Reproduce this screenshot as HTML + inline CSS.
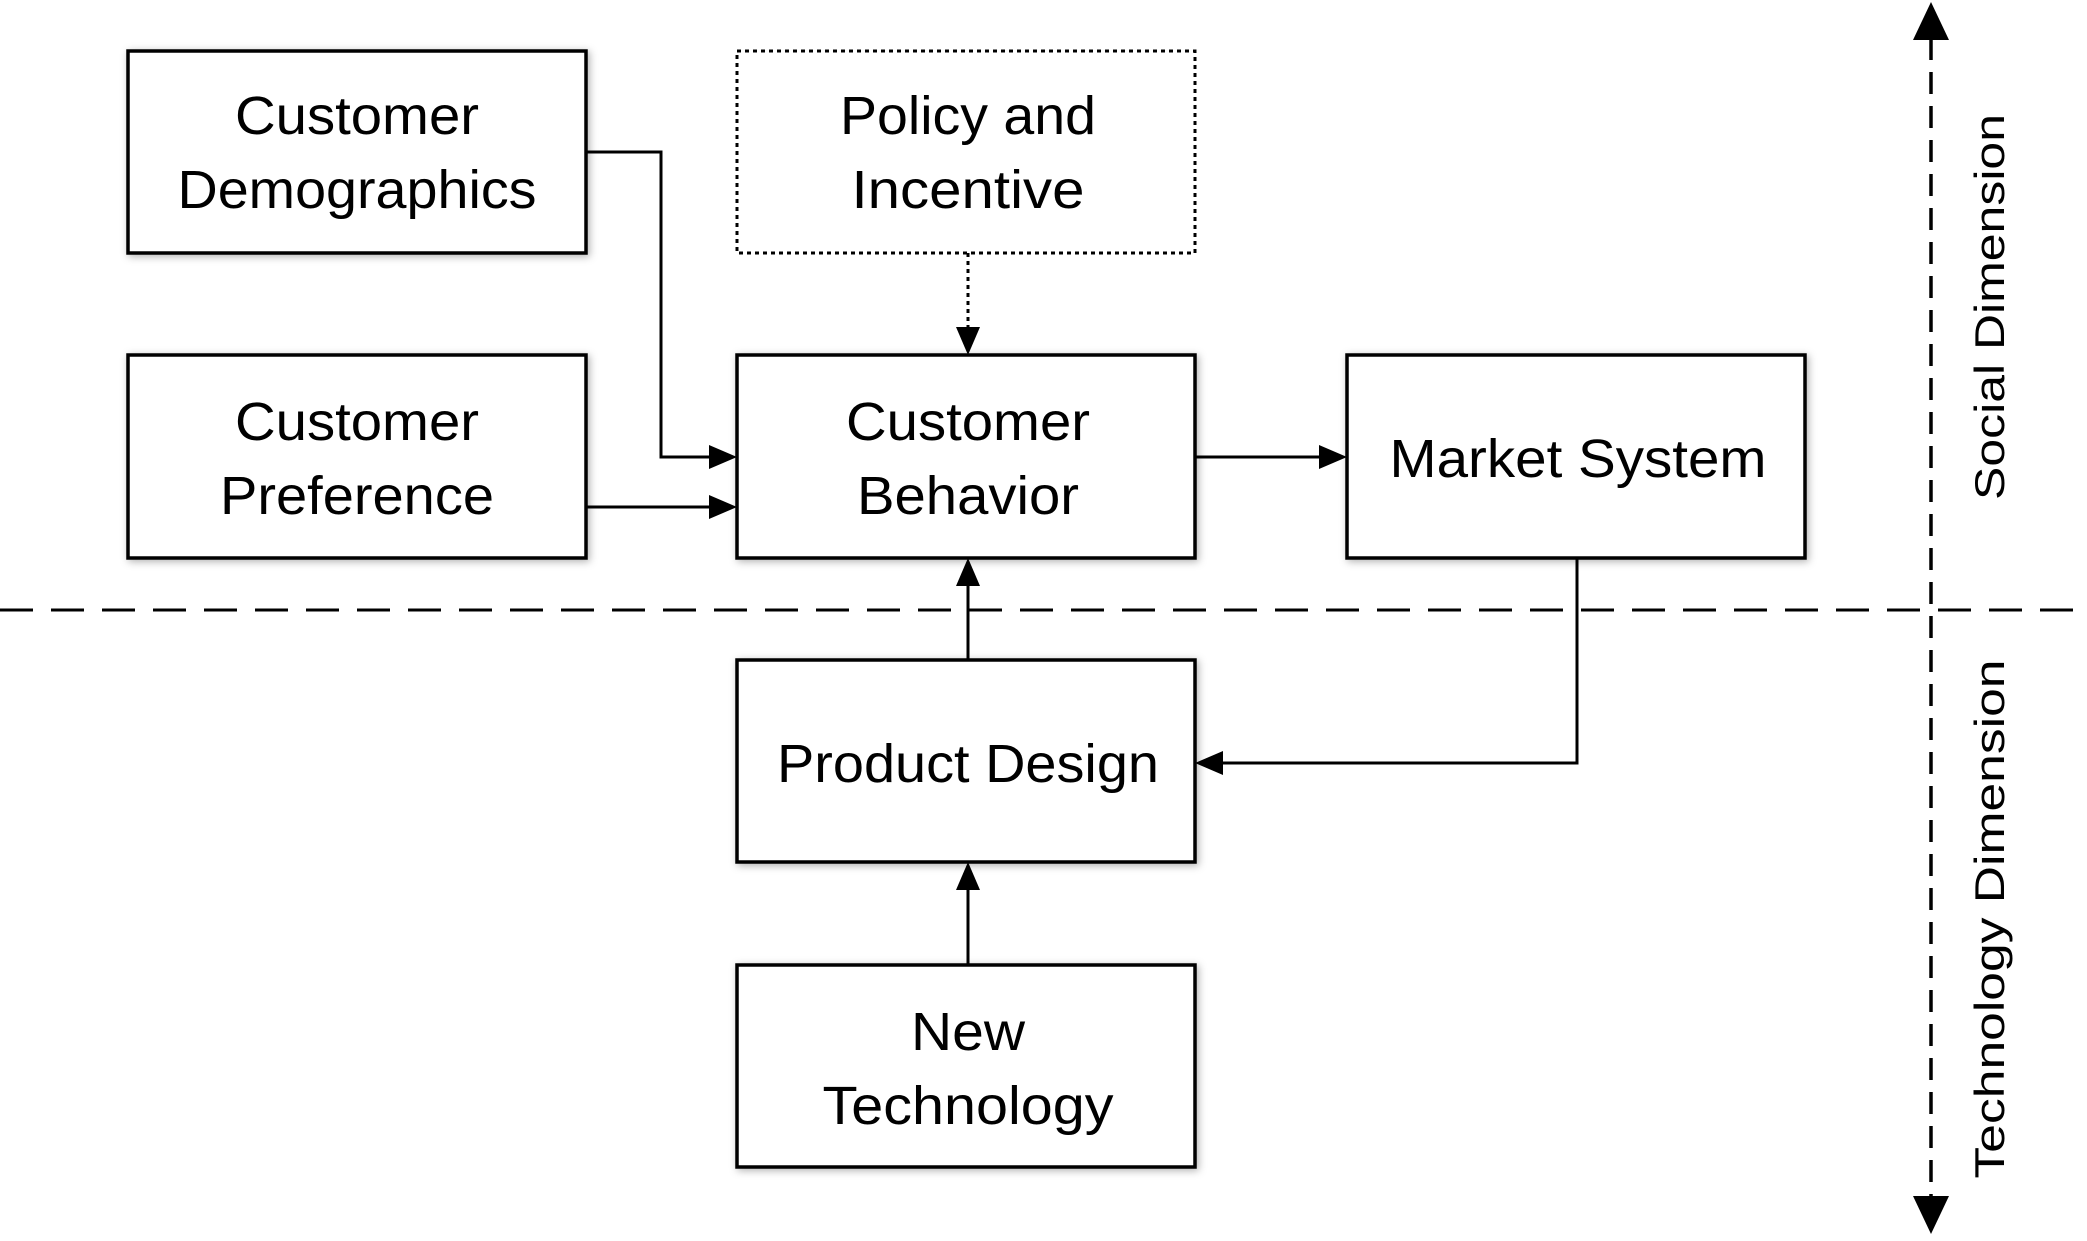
<!DOCTYPE html>
<html><head><meta charset="utf-8"><style>html,body{margin:0;padding:0;background:#fff}</style></head>
<body>
<svg width="2087" height="1236" viewBox="0 0 2087 1236" xmlns="http://www.w3.org/2000/svg" font-family="Liberation Sans, sans-serif">
<defs>
<filter id="s" x="-10%" y="-10%" width="120%" height="120%"><feDropShadow dx="2" dy="2" stdDeviation="4" flood-opacity="0.3"/></filter>
</defs>
<g fill="#fff" stroke="#000" stroke-width="3.5" filter="url(#s)">
<rect x="128" y="51" width="458" height="202"/>
<rect x="128" y="355" width="458" height="203"/>
<rect x="737" y="355" width="458" height="203"/>
<rect x="1347" y="355" width="458" height="203"/>
<rect x="737" y="660" width="458" height="202"/>
<rect x="737" y="965" width="458" height="202"/>
</g>
<rect x="737" y="51" width="458" height="202" fill="#fff" stroke="#000" stroke-width="3" stroke-dasharray="4,4"/>
<g fill="none" stroke="#000" stroke-width="3">
<polyline points="586,152 661,152 661,457 712,457"/>
<line x1="586" y1="507" x2="712" y2="507"/>
<line x1="1195" y1="457" x2="1322" y2="457"/>
<line x1="968" y1="253" x2="968" y2="330" stroke-dasharray="4,4"/>
<line x1="968" y1="660" x2="968" y2="583"/>
<line x1="968" y1="965" x2="968" y2="887"/>
<polyline points="1577,558 1577,763 1220,763"/>
</g>
<g fill="#000">
<path d="M737,457 L709,445 L709,469 z"/>
<path d="M737,507 L709,495 L709,519 z"/>
<path d="M1347,457 L1319,445 L1319,469 z"/>
<path d="M968,355 L956,327 L980,327 z"/>
<path d="M968,558 L956,586 L980,586 z"/>
<path d="M968,862 L956,890 L980,890 z"/>
<path d="M1195,763 L1223,751 L1223,775 z"/>
<path d="M1931,2 L1913,40 L1949,40 z"/>
<path d="M1931,1234 L1913,1196 L1949,1196 z"/>
</g>
<line x1="0" y1="610" x2="2087" y2="610" stroke="#000" stroke-width="3" stroke-dasharray="33,18"/>
<line x1="1931" y1="38" x2="1931" y2="1198" stroke="#000" stroke-width="3.5" stroke-dasharray="22,12"/>
<g font-size="54" text-anchor="middle" fill="#000">
<text x="357" y="134" textLength="244" lengthAdjust="spacingAndGlyphs">Customer</text>
<text x="357" y="208" textLength="359" lengthAdjust="spacingAndGlyphs">Demographics</text>
<text x="357" y="440" textLength="244" lengthAdjust="spacingAndGlyphs">Customer</text>
<text x="357" y="514" textLength="274" lengthAdjust="spacingAndGlyphs">Preference</text>
<text x="968" y="134" textLength="256" lengthAdjust="spacingAndGlyphs">Policy and</text>
<text x="968" y="208" textLength="233" lengthAdjust="spacingAndGlyphs">Incentive</text>
<text x="968" y="440" textLength="244" lengthAdjust="spacingAndGlyphs">Customer</text>
<text x="968" y="514" textLength="222" lengthAdjust="spacingAndGlyphs">Behavior</text>
<text x="1578" y="477" textLength="377" lengthAdjust="spacingAndGlyphs">Market System</text>
<text x="968" y="782" textLength="382" lengthAdjust="spacingAndGlyphs">Product Design</text>
<text x="968" y="1050" textLength="114" lengthAdjust="spacingAndGlyphs">New</text>
<text x="968" y="1124" textLength="291" lengthAdjust="spacingAndGlyphs">Technology</text>
</g>
<g font-size="42" text-anchor="middle" fill="#000">
<text transform="translate(2004,307) rotate(-90)" textLength="386" lengthAdjust="spacingAndGlyphs">Social Dimension</text>
<text transform="translate(2004,919) rotate(-90)" textLength="519" lengthAdjust="spacingAndGlyphs">Technology Dimension</text>
</g>
</svg>
</body></html>
